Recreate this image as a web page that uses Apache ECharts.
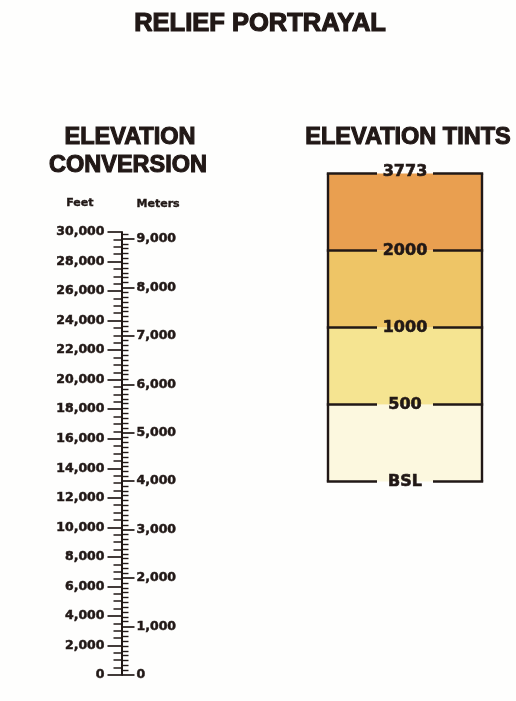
<!DOCTYPE html>
<html>
<head>
<meta charset="utf-8">
<script src="https://cdn.jsdelivr.net/npm/echarts@6/dist/echarts.min.js"></script>
<style>
html,body{margin:0;padding:0;background:#fefefd;}
#c{width:516px;height:701px;}
</style>
</head>
<body>
<div id="c"></div>
<script>
// ---- data ----
const feetRange = [0, 30000];
const feetLabelStep = 2000;
const feetMinorSplit = 4;           // 500 ft minor ticks
const metersPerFoot = 0.3048;
const meterLabelValues = [0, 1000, 2000, 3000, 4000, 5000, 6000, 7000, 8000, 9000];
const meterMinorStep = 100;
const tintBreakLabels = ['BSL', '500', '1000', '2000', '3773'];
const tintColors = ['#fcf8df', '#f5e491', '#eec566', '#e99f50'];

// ---- derived ----
const meterMax = feetRange[1] * metersPerFoot;
const meterMinorValues = [];
for (let v = 0; v <= meterMax; v += meterMinorStep) {
  if (v % 1000 !== 0) meterMinorValues.push(v);
}
const fmt = v => String(v).replace(/\B(?=(\d{3})+(?!\d))/g, ',');

const ink = '#211816';
const labelFont = { color: ink, fontFamily: 'DejaVu Sans', fontWeight: 'bold', fontSize: 12.5,
                    textBorderColor: ink, textBorderWidth: 0.5 };
const titleFont = { color: ink, fontFamily: 'Liberation Sans', fontWeight: 'bold', fontSize: 23.5, lineHeight: 24,
                    textBorderColor: ink, textBorderWidth: 1.1 };
const headFont = { color: ink, fontFamily: 'DejaVu Sans', fontWeight: 'bold', fontSize: 11,
                   textBorderColor: ink, textBorderWidth: 0.4 };

const chart = echarts.init(document.getElementById('c'), null, { renderer: 'canvas' });

const option = {
  backgroundColor: '#fefefd',
  animation: false,
  title: [
    { text: 'RELIEF PORTRAYAL', left: 260, top: 10.5, textAlign: 'center', padding: 0,
      textStyle: Object.assign({}, titleFont, { fontSize: 25.5, lineHeight: 26, textBorderWidth: 1.2 }) },
    { text: 'ELEVATION', left: 130, top: 125.5, textAlign: 'center', padding: 0, textStyle: titleFont },
    { text: 'CONVERSION', left: 128, top: 154, textAlign: 'center', padding: 0, textStyle: titleFont },
    { text: 'ELEVATION TINTS', left: 408, top: 125.5, textAlign: 'center', padding: 0, textStyle: titleFont }
  ],
  grid: [
    { left: 121.5, top: 232, width: 10, height: 443, containLabel: false },
    { left: 328, top: 173.5, width: 154, height: 308, containLabel: false }
  ],
  xAxis: [
    { gridIndex: 0, type: 'value', show: false, min: 0, max: 1 },
    { gridIndex: 1, type: 'value', show: false, min: 0, max: 1 }
  ],
  yAxis: [
    { // feet
      gridIndex: 0, type: 'value', position: 'left', offset: 0,
      min: feetRange[0], max: feetRange[1], interval: feetLabelStep,
      name: 'Feet', nameLocation: 'end', nameGap: 29,
      nameTextStyle: Object.assign({ align: 'right', verticalAlign: 'middle', padding: [0, 28, 0, 0] }, headFont),
      axisLine: { show: true, lineStyle: { color: ink, width: 2 } },
      axisTick: { show: true, inside: false, length: 14, lineStyle: { color: ink, width: 1.7 } },
      minorTick: { show: true, splitNumber: feetMinorSplit, length: 8, lineStyle: { color: ink, width: 1.5 } },
      axisLabel: Object.assign({ margin: 17, formatter: v => fmt(v) }, labelFont),
      splitLine: { show: false }, minorSplitLine: { show: false }
    },
    { // meters labels + major ticks
      gridIndex: 0, type: 'value', position: 'left', offset: 0,
      min: 0, max: meterMax,
      name: 'Meters', nameLocation: 'end', nameGap: 28,
      nameTextStyle: Object.assign({ align: 'left', verticalAlign: 'middle', padding: [0, 0, 0, 15] }, headFont),
      axisLine: { show: false },
      axisTick: { show: true, inside: true, length: 13, customValues: meterLabelValues,
                  lineStyle: { color: ink, width: 1.7 } },
      axisLabel: Object.assign({ inside: true, margin: 15, customValues: meterLabelValues,
                                 formatter: v => fmt(v) }, labelFont),
      splitLine: { show: false }
    },
    { // meters minor ticks
      gridIndex: 0, type: 'value', position: 'left', offset: 0,
      min: 0, max: meterMax,
      axisLine: { show: false },
      axisTick: { show: true, inside: true, length: 7, customValues: meterMinorValues,
                  lineStyle: { color: ink, width: 1.4 } },
      axisLabel: { show: false },
      splitLine: { show: false }
    },
    { // tint bands
      gridIndex: 1, type: 'value', show: false, min: 0, max: tintColors.length
    }
  ],
  series: [
    {
      type: 'custom', xAxisIndex: 1, yAxisIndex: 3, silent: true,
      data: tintColors.map((c, i) => [i]),
      encode: { y: 0 },
      renderItem: function (params, api) {
        const i = api.value(0);
        const p0 = api.coord([0, i]);
        const p1 = api.coord([1, i + 1]);
        return {
          type: 'group',
          children: [
            { type: 'rect', shape: { x: p0[0], y: p1[1], width: p1[0] - p0[0], height: p0[1] - p1[1] },
              style: { fill: tintColors[i] } },
            { type: 'line', shape: { x1: p0[0], y1: p0[1], x2: p0[0], y2: p1[1] },
              style: { stroke: ink, lineWidth: 2.4 } },
            { type: 'line', shape: { x1: p1[0], y1: p0[1], x2: p1[0], y2: p1[1] },
              style: { stroke: ink, lineWidth: 2.4 } }
          ]
        };
      }
    },
    {
      type: 'custom', xAxisIndex: 1, yAxisIndex: 3, silent: true,
      data: tintBreakLabels.map((l, i) => [i]),
      encode: { y: 0 },
      renderItem: function (params, api) {
        const i = api.value(0);
        const pl = api.coord([0, i]);
        const pr = api.coord([1, i]);
        const cx = (pl[0] + pr[0]) / 2;
        const gap = 28;
        return {
          type: 'group',
          children: [
            { type: 'line', shape: { x1: pl[0] - 1.2, y1: pl[1], x2: cx - gap, y2: pl[1] },
              style: { stroke: ink, lineWidth: 2.4 } },
            { type: 'line', shape: { x1: cx + gap, y1: pl[1], x2: pr[0] + 1.2, y2: pl[1] },
              style: { stroke: ink, lineWidth: 2.4 } },
            { type: 'text', x: cx, y: pl[1] - (i === tintBreakLabels.length - 1 ? 2 : 0),
              style: { text: tintBreakLabels[i], fill: ink, font: 'bold 16px "DejaVu Sans"',
                       stroke: ink, lineWidth: 0.6,
                       align: 'center', verticalAlign: 'middle' } }
          ]
        };
      }
    }
  ]
};

chart.setOption(option);
</script>
</body>
</html>
